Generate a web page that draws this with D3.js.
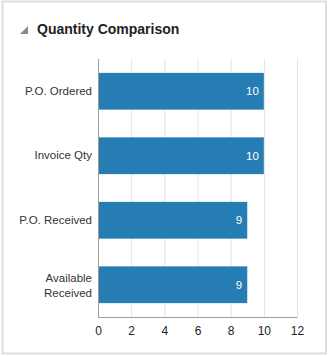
<!DOCTYPE html>
<html><head><meta charset="utf-8">
<script src="https://cdn.jsdelivr.net/npm/d3@7"></script>
<style>body{margin:0;background:#fff;}svg{display:block;font-family:"Helvetica Neue",Arial,"Liberation Sans",sans-serif;}</style>
</head><body>
<svg id="c" width="331" height="356"></svg>
<script>
const categories = ["P.O. Ordered", "Invoice Qty", "P.O. Received", "Available Received"];
const values = [10, 10, 9, 9];
const ticks = [0, 2, 4, 6, 8, 10, 12];
const title = "Quantity Comparison";

const svg = d3.select("#c");
svg.append("rect").attr("x",2.5).attr("y",1.5).attr("width",323.5).attr("height",352)
  .attr("fill","#fff").attr("stroke","#d9dee2").attr("stroke-width",2);

svg.append("path").attr("d","M20,34 L28,34 L28,26 Z").attr("fill","#8a8a8a");
svg.append("text").attr("x",37).attr("y",34).text(title)
  .attr("font-size",14).attr("font-weight","bold").attr("fill","#222");

const m = {left:98, right:297, top:59, bottom:317};
const x = d3.scaleLinear().domain([0,12]).range([m.left, m.right]);
const y = d3.scaleBand().domain(categories).range([m.top, m.bottom]).paddingInner(0.43).paddingOuter(0.215);

svg.append("g").selectAll("line").data(ticks.slice(1)).join("line")
  .attr("x1",d=>x(d)+0.5).attr("x2",d=>x(d)+0.5).attr("y1",m.top).attr("y2",m.bottom)
  .attr("stroke","#e4e4e4");

svg.append("g").selectAll("rect").data(values).join("rect")
  .attr("x",x(0)).attr("y",(d,i)=>y(categories[i]))
  .attr("width",d=>x(d)-x(0)).attr("height",y.bandwidth()).attr("fill","#267db3");

svg.append("g").selectAll("text").data(values).join("text")
  .attr("x",d=>x(d)-5).attr("y",(d,i)=>y(categories[i])+y.bandwidth()/2+4)
  .attr("text-anchor","end").attr("font-size",11.5).attr("font-weight",500).attr("fill","#fff").text(d=>d);

svg.append("line").attr("x1",m.left+0.5).attr("x2",m.left+0.5).attr("y1",m.top).attr("y2",m.bottom+0.5).attr("stroke","#9e9e9e");
svg.append("line").attr("x1",m.left).attr("x2",m.right+0.5).attr("y1",m.bottom+0.5).attr("y2",m.bottom+0.5).attr("stroke","#9e9e9e");

const xa = d3.axisBottom(x).tickValues(ticks).tickSize(0).tickPadding(9);
const gx = svg.append("g").attr("transform",`translate(0,${m.bottom})`).call(xa);
gx.select(".domain").remove();
gx.selectAll("text").attr("font-size",12).attr("fill","#222").attr("font-family","inherit");

const ya = d3.axisLeft(y).tickSize(0).tickPadding(6);
const gy = svg.append("g").attr("transform",`translate(${m.left},0)`).call(ya);
gy.select(".domain").remove();
gy.selectAll("text").attr("font-size",11.5).attr("fill","#333").attr("font-family","inherit")
  .each(function(d){
    const words = d.split(" ");
    const t = d3.select(this);
    if (d === "Available Received") {
      t.text(null);
      t.append("tspan").attr("x",-6).attr("dy","-0.25em").text(words[0]);
      t.append("tspan").attr("x",-6).attr("dy","1.3em").text(words[1]);
    }
  });
</script>
</body></html>
